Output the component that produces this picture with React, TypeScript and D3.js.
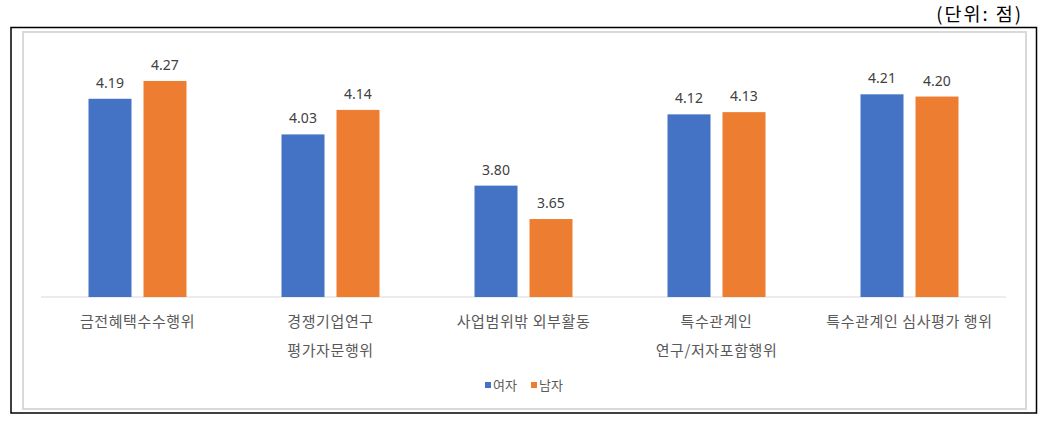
import React from "react";
import * as d3 from "d3";

const categories: string[][] = [
  ["금전혜택수수행위"],
  ["경쟁기업연구", "평가자문행위"],
  ["사업범위밖 외부활동"],
  ["특수관계인", "연구/저자포함행위"],
  ["특수관계인 심사평가 행위"],
];
const seriesNames = ["여자", "남자"];
const female = [4.19, 4.03, 3.8, 4.12, 4.21];
const male = [4.27, 4.14, 3.65, 4.13, 4.2];
const seriesColors = ["#4472C4", "#ED7D31"];
const unitLabel = "(단위: 점)";

const W = 1044;
const H = 425;

export default function App() {
  const keys = categories.map((c) => c.join(" "));
  const x0 = d3.scaleBand<string>().domain(keys).range([41, 1006]).padding(0);
  const clusterW = 98;
  const x1 = d3
    .scaleBand<string>()
    .domain(seriesNames)
    .range([0, clusterW])
    .paddingInner(0.218)
    .paddingOuter(0);
  const y = d3.scaleLinear().domain([3.3, 4.4]).range([297, 52]);
  const values = [female, male];
  const fontKR = "'Noto Sans CJK KR', 'Noto Sans', sans-serif";

  return (
    <svg
      width={W}
      height={H}
      style={{ position: "absolute", left: 0, top: 0, background: "#fff" }}
    >
      <text
        x={1023}
        y={21}
        textAnchor="end"
        fontFamily={fontKR}
        fontSize={18.5}
        fill="#000"
        letterSpacing={2}
      >
        {unitLabel}
      </text>
      <rect x={11} y={27.5} width={1025.5} height={385.5} fill="none" stroke="#000" strokeWidth={1.5} />
      <rect x={23} y={32} width={1003} height={377} fill="none" stroke="#d9d9d9" strokeWidth={2} />
      <line x1={41} x2={1006} y1={297} y2={297} stroke="#d9d9d9" strokeWidth={1} />
      {keys.map((k, i) => {
        const gx = (x0(k) ?? 0) + (x0.bandwidth() - clusterW) / 2;
        return (
          <g key={k}>
            {seriesNames.map((s, j) => {
              const v = values[j][i];
              const bx = gx + (x1(s) ?? 0);
              const bw = x1.bandwidth();
              return (
                <g key={s}>
                  <rect
                    x={bx}
                    y={y(v)}
                    width={bw}
                    height={y(3.3) - y(v)}
                    fill={seriesColors[j]}
                  />
                  <text
                    x={bx + bw / 2}
                    y={y(v) - 11}
                    textAnchor="middle"
                    fontFamily="'Noto Sans', sans-serif"
                    fontSize={14}
                    fill="#404040"
                  >
                    {v.toFixed(2)}
                  </text>
                </g>
              );
            })}
            {categories[i].map((line, li) => (
              <text
                key={li}
                x={(x0(k) ?? 0) + x0.bandwidth() / 2}
                y={327 + li * 29}
                textAnchor="middle"
                fontFamily={fontKR}
                fontSize={15}
                letterSpacing={0.6}
                fill="#595959"
              >
                {line}
              </text>
            ))}
          </g>
        );
      })}
      {seriesNames.map((s, j) => {
        const lx = j === 0 ? 485 : 531;
        return (
          <g key={s}>
            <rect x={lx} y={382} width={6} height={6} fill={seriesColors[j]} />
            <text
              x={lx + 8}
              y={390}
              fontFamily={fontKR}
              fontSize={13}
              fill="#595959"
            >
              {s}
            </text>
          </g>
        );
      })}
    </svg>
  );
}
